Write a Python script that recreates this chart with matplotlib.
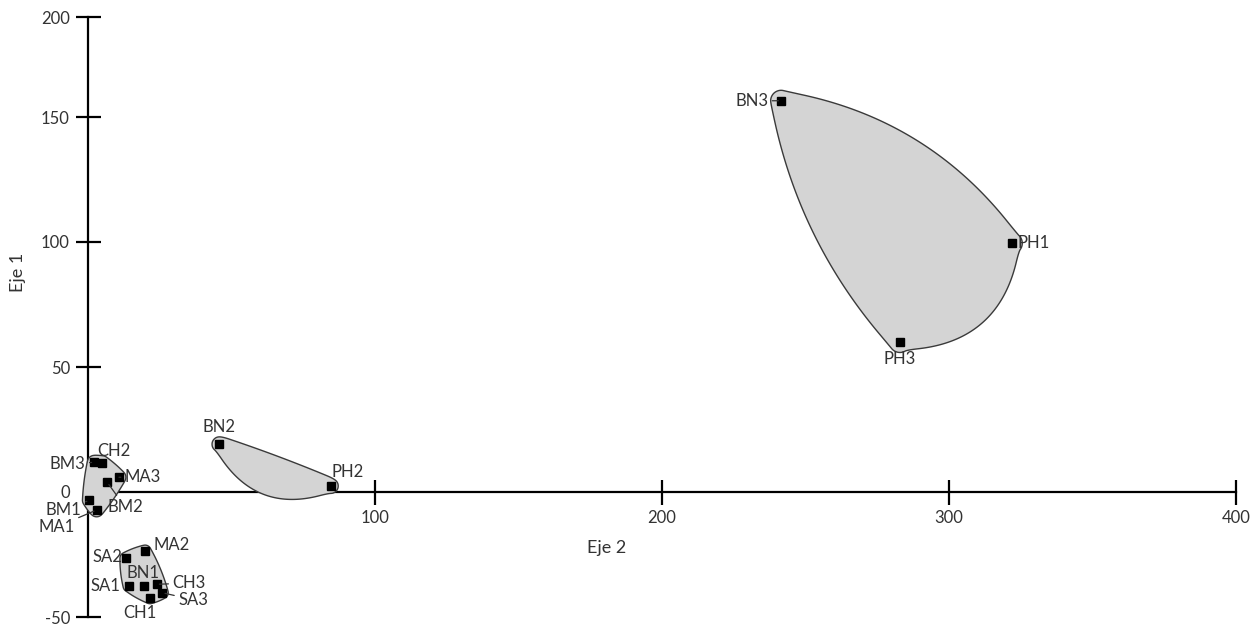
import numpy as np
import matplotlib.pyplot as plt
from matplotlib.patches import Polygon

plt.rcParams['font.family'] = ['Lato', 'DejaVu Sans']

# puntos (Eje 2 = horizontal, Eje 1 = vertical)
etiquetas = ['BN3', 'PH1', 'PH3', 'BN2', 'PH2',
             'BM3', 'CH2', 'MA3', 'BM2', 'BM1', 'MA1',
             'SA2', 'MA2', 'SA1', 'BN1', 'CH3', 'SA3', 'CH1']
eje2 = [241.5, 321.8, 282.9, 45.8, 84.6,
        2.2, 5.0, 10.8, 6.7, 0.5, 3.0,
        13.2, 19.9, 14.3, 19.5, 23.9, 25.9, 21.6]
eje1 = [156.5, 99.5, 60.1, 19.1, 2.4,
        11.9, 11.7, 5.9, 3.9, -3.3, -7.2,
        -26.5, -23.6, -37.6, -37.6, -36.9, -40.3, -42.3]

grupos = [['BN3', 'PH1', 'PH3'],
          ['BN2', 'PH2'],
          ['BM3', 'CH2', 'MA3', 'BM2', 'BM1', 'MA1'],
          ['SA2', 'MA2', 'SA1', 'BN1', 'CH3', 'SA3', 'CH1']]

# desplazamiento de cada etiqueta en pixeles, alineacion, linea guia
pos_etiq = {
    'BN3': (-13, 0, 'right', True), 'PH1': (6, 0, 'left', False),
    'PH3': (0, -17, 'center', False), 'BN2': (0, 17, 'center', False),
    'PH2': (17, 14, 'center', False), 'BM3': (-9, -2, 'right', True),
    'CH2': (12, 12, 'center', False), 'MA3': (6, 0, 'left', True),
    'BM2': (18, -25, 'center', True), 'BM1': (-8, -10, 'right', True),
    'MA1': (-22, -17, 'right', True), 'SA2': (-4, 1, 'right', False),
    'MA2': (8, 6, 'left', False), 'BN1': (-1, 13, 'center', False),
    'SA1': (-9, 0, 'right', False), 'CH3': (16, 1, 'left', True),
    'SA3': (16, -7, 'left', True), 'CH1': (-10, -15, 'center', False),
}

fig = plt.figure(figsize=(12.6, 6.27), dpi=100)
ax = fig.add_axes([0, 0, 1, 1])
ax.set_xlim((0 - 88) / 2.87, (1260 - 88) / 2.87)
ax.set_ylim((492 - 627) / 2.5, 492 / 2.5)


def casco(p):
    p = sorted(map(tuple, p))
    if len(p) < 3:
        return np.array(p)
    def cruz(o, a, b):
        return (a[0]-o[0])*(b[1]-o[1]) - (a[1]-o[1])*(b[0]-o[0])
    inf, sup = [], []
    for q in p:
        while len(inf) >= 2 and cruz(inf[-2], inf[-1], q) <= 0:
            inf.pop()
        inf.append(q)
    for q in reversed(p):
        while len(sup) >= 2 and cruz(sup[-2], sup[-1], q) <= 0:
            sup.pop()
        sup.append(q)
    return np.array(inf[:-1] + sup[:-1])


def contorno(px, r, bulto):
    h = casco(px)
    n = len(h)
    bulto = np.broadcast_to(bulto, (n,))
    out = []
    for i in range(n):
        p, ant, sig = h[i], h[i-1], h[(i+1) % n]
        e1, e2 = p - ant, sig - p
        n1 = np.array([e1[1], -e1[0]]) / np.hypot(*e1)
        n2 = np.array([e2[1], -e2[0]]) / np.hypot(*e2)
        a1 = np.arctan2(n1[1], n1[0])
        a2 = np.arctan2(n2[1], n2[0])
        da = (a2 - a1) % (2*np.pi)
        for t in np.linspace(a1, a1 + da, 5):
            out.append(p + r*np.array([np.cos(t), np.sin(t)]))
        L = np.hypot(*e2)
        for s in np.linspace(0, 1, 9)[1:-1]:
            out.append(p + s*e2 + n2*(r + 4*bulto[i]*L*s*(1-s)))
    c = np.array(out)
    for _ in range(5):
        q = np.roll(c, -1, axis=0)
        c = np.stack([0.75*c + 0.25*q, 0.25*c + 0.75*q], axis=1).reshape(-1, 2)
    return c


# radio y abombamiento de cada contorno (por lado del casco)
radios = [11, 8, 7, 6]
bultos = [[0.07, 0.2, 0.1], [0.2, 0.01], 0.02, 0.03]

xy = dict(zip(etiquetas, zip(eje2, eje1)))
for g, r, b in zip(grupos, radios, bultos):
    d = ax.transData.transform([xy[k] for k in g])
    c = contorno(d, r, b)
    cd = ax.transData.inverted().transform(c)
    ax.add_patch(Polygon(cd, closed=True, facecolor='#d4d4d4',
                         edgecolor='#3a3a3a', lw=1.0, zorder=2))

ax.plot(eje2, eje1, 's', color='black', ms=5.5, zorder=4)

for k in etiquetas:
    dx, dy, ha, guia = pos_etiq[k]
    ax.annotate(k, xy[k], xytext=(dx, dy), textcoords='offset pixels',
                ha=ha, va='center', fontsize=12, color='#333333', zorder=5,
                arrowprops=dict(arrowstyle='-', color='#333333', lw=0.9,
                                shrinkA=1, shrinkB=2) if guia else None)

for s in ['top', 'right']:
    ax.spines[s].set_visible(False)
ax.spines['left'].set_position(('data', 0))
ax.spines['bottom'].set_position(('data', 0))
ax.spines['left'].set_bounds(-50, 190)
ax.spines['bottom'].set_bounds(0, 400)
ax.spines['left'].set_linewidth(1.6)
ax.spines['bottom'].set_linewidth(1.6)
ax.spines['left'].set_zorder(1)
ax.spines['bottom'].set_zorder(1)

ax.set_xticks([100, 200, 300, 400])
ax.set_yticks([-50, 0, 50, 100, 150, 190])
ax.set_yticklabels(['-50', '0', '50', '100', '150', '200'])
ax.tick_params(direction='inout', length=18, width=1.6, labelsize=12,
               labelcolor='#333333', pad=4)
ax.yaxis.get_major_ticks()[1].tick1line.set_visible(False)

fig.text(18/1260, 1 - 272/627, 'Eje 1', rotation=90, ha='center', va='center',
         fontsize=13, color='#333333')
fig.text(607/1260, 1 - 548/627, 'Eje 2', ha='center', va='center',
         fontsize=13, color='#333333')

fig.savefig('out.png', dpi=100)
